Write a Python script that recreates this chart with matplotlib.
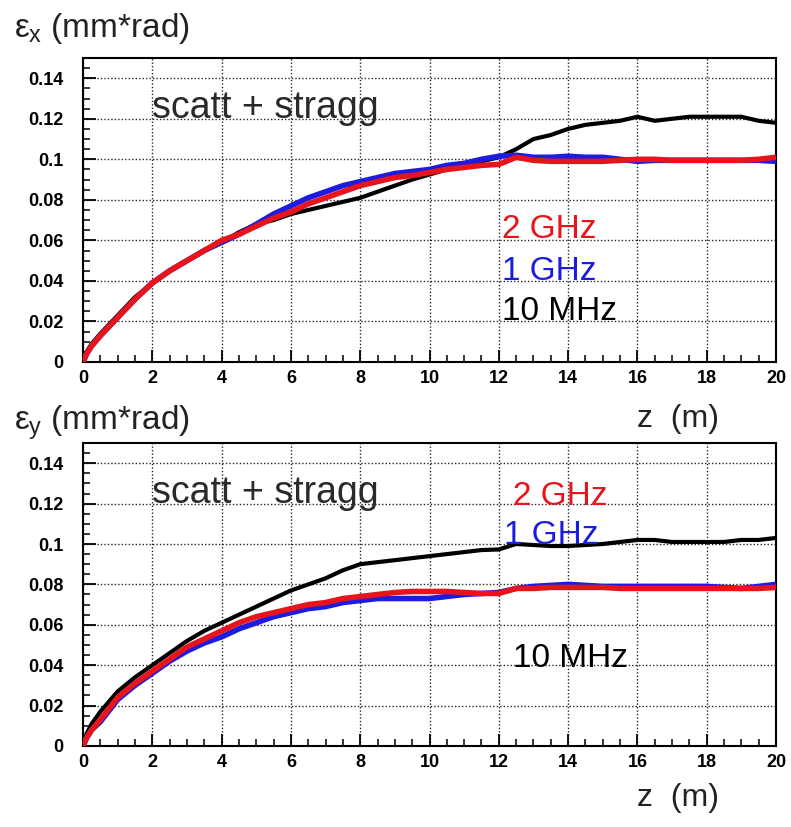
import matplotlib
matplotlib.use("Agg")
import matplotlib.pyplot as plt
import numpy as np

# z positions (m) of the sampled points
z = [0, 0.1, 0.25, 0.5, 1, 1.5, 2, 2.5, 3, 3.5, 4, 4.5, 5, 5.5, 6, 6.5, 7,
     7.5, 8, 8.5, 9, 9.5, 10, 10.5, 11, 11.5, 12, 12.5, 13, 13.5, 14, 14.5,
     15, 15.5, 16, 16.5, 17, 17.5, 18, 18.5, 19, 19.5, 20]

# horizontal emittance, eps_x (mm*rad)
ex_10mhz = [0, 0.005, 0.009, 0.014, 0.023, 0.032, 0.039, 0.045, 0.050, 0.055,
            0.059, 0.064, 0.068, 0.070, 0.073, 0.075, 0.077, 0.079, 0.081,
            0.084, 0.087, 0.090, 0.0925, 0.095, 0.097, 0.099, 0.101, 0.105,
            0.110, 0.112, 0.115, 0.117, 0.118, 0.119, 0.121, 0.119, 0.120,
            0.121, 0.121, 0.121, 0.121, 0.119, 0.118]
ex_1ghz = [0, 0.004, 0.008, 0.013, 0.022, 0.031, 0.039, 0.045, 0.050, 0.055,
           0.059, 0.063, 0.068, 0.073, 0.077, 0.081, 0.084, 0.087, 0.089,
           0.091, 0.093, 0.094, 0.095, 0.097, 0.098, 0.100, 0.1015, 0.102,
           0.101, 0.101, 0.1015, 0.101, 0.101, 0.100, 0.099, 0.0995, 0.0995,
           0.0995, 0.0995, 0.0995, 0.0995, 0.0995, 0.099]
ex_2ghz = [0, 0.004, 0.008, 0.013, 0.022, 0.031, 0.039, 0.045, 0.050, 0.055,
           0.060, 0.063, 0.067, 0.071, 0.074, 0.078, 0.081, 0.084, 0.087,
           0.089, 0.091, 0.092, 0.0935, 0.095, 0.096, 0.097, 0.0975, 0.101,
           0.0995, 0.099, 0.099, 0.099, 0.099, 0.0995, 0.100, 0.100, 0.0995,
           0.0995, 0.0995, 0.0995, 0.0995, 0.100, 0.101]

# vertical emittance, eps_y (mm*rad)
ey_10mhz = [0, 0.006, 0.011, 0.017, 0.027, 0.034, 0.040, 0.046, 0.052, 0.057,
            0.061, 0.065, 0.069, 0.073, 0.077, 0.080, 0.083, 0.087, 0.090,
            0.091, 0.092, 0.093, 0.094, 0.095, 0.096, 0.097, 0.0973, 0.100,
            0.0995, 0.099, 0.099, 0.0995, 0.100, 0.101, 0.102, 0.102, 0.101,
            0.101, 0.101, 0.101, 0.102, 0.102, 0.103]
ey_1ghz = [0, 0.004, 0.008, 0.012, 0.023, 0.030, 0.036, 0.042, 0.047, 0.051,
           0.054, 0.058, 0.061, 0.064, 0.066, 0.068, 0.069, 0.071, 0.072,
           0.073, 0.073, 0.073, 0.073, 0.074, 0.075, 0.0755, 0.076, 0.078,
           0.079, 0.0795, 0.080, 0.0795, 0.079, 0.079, 0.079, 0.079, 0.079,
           0.079, 0.079, 0.0785, 0.078, 0.079, 0.080]
ey_2ghz = [0, 0.004, 0.008, 0.013, 0.024, 0.031, 0.037, 0.043, 0.049, 0.053,
           0.057, 0.061, 0.064, 0.066, 0.068, 0.070, 0.071, 0.073, 0.074,
           0.075, 0.076, 0.0765, 0.0765, 0.0765, 0.076, 0.0755, 0.0755, 0.078,
           0.078, 0.0785, 0.0785, 0.0785, 0.0785, 0.078, 0.078, 0.078, 0.078,
           0.078, 0.078, 0.078, 0.078, 0.078, 0.0785]

y_ticks = [0, 0.02, 0.04, 0.06, 0.08, 0.1, 0.12, 0.14]
y_ticklabels = ["0", "0.02", "0.04", "0.06", "0.08", "0.1", "0.12", "0.14"]
x_ticks = [0, 2, 4, 6, 8, 10, 12, 14, 16, 18, 20]

plt.rcParams["font.family"] = ["Liberation Sans", "DejaVu Sans"]
plt.rcParams["mathtext.fontset"] = "custom"
plt.rcParams["mathtext.rm"] = "Liberation Sans"
plt.rcParams["mathtext.it"] = "Liberation Sans"

RED = "#e8141c"
BLUE = "#1c1ce0"


def draw_panel(ax, black, blue, red, labels):
    ax.plot(z, black, color="black", lw=3.0, zorder=3)
    ax.plot(z, blue, color=BLUE, lw=4.0, zorder=4)
    ax.plot(z, red, color=RED, lw=4.0, zorder=5)

    ax.set_xlim(0, 20)
    ax.set_ylim(0, 0.15)
    ax.set_xticks(x_ticks)
    ax.set_xticklabels([str(t) for t in x_ticks])
    ax.set_yticks(y_ticks)
    ax.set_yticklabels(y_ticklabels)
    ax.set_xticks(np.arange(0, 20.01, 0.5), minor=True)
    ax.set_yticks(np.arange(0, 0.1501, 0.005), minor=True)
    ax.tick_params(which="major", direction="in", length=9, width=1.3,
                   labelsize=13, top=False, right=False)
    ax.tick_params(which="minor", direction="in", length=5, width=1.1,
                   top=False, right=False)
    ax.tick_params(axis="y", pad=14)
    ax.tick_params(axis="x", pad=6)
    for lab in ax.get_xticklabels() + ax.get_yticklabels():
        lab.set_fontweight("bold")
    ax.grid(which="major", color="black", linestyle=(0, (1, 1.5)), lw=1.0,
            alpha=0.85)
    for s in ax.spines.values():
        s.set_linewidth(1.5)

    ax.text(2.0, 0.1205, "scatt + stragg", fontsize=27, color="#2a2a2a")
    for (x, y, txt, col) in labels:
        ax.text(x, y, txt, fontsize=24, color=col)


fig = plt.figure(figsize=(7.91, 8.27), dpi=100)
ax1 = fig.add_axes([0.105, 0.5623, 0.876, 0.3676])
ax2 = fig.add_axes([0.105, 0.0980, 0.876, 0.3663])

draw_panel(ax1, ex_10mhz, ex_1ghz, ex_2ghz,
           [(12.1, 0.0614, "2 GHz", RED),
            (12.1, 0.0406, "1 GHz", BLUE),
            (12.1, 0.0208, "10 MHz", "black")])
draw_panel(ax2, ey_10mhz, ey_1ghz, ey_2ghz,
           [(12.4, 0.1194, "2 GHz", RED),
            (12.15, 0.0998, "1 GHz", BLUE),
            (12.4, 0.039, "10 MHz", "black")])

fig.text(0.018, 0.966, r"$\varepsilon_{x}$ (mm*rad)", fontsize=24,
         va="center", ha="left", color="#222222")
fig.text(0.018, 0.489, r"$\varepsilon_{y}$ (mm*rad)", fontsize=24,
         va="center", ha="left", color="#222222")
fig.text(0.805, 0.493, "z  (m)", fontsize=23, va="center", ha="left",
         color="#222222")
fig.text(0.805, 0.035, "z  (m)", fontsize=23, va="center", ha="left",
         color="#222222")

fig.savefig("out.png", dpi=100)
